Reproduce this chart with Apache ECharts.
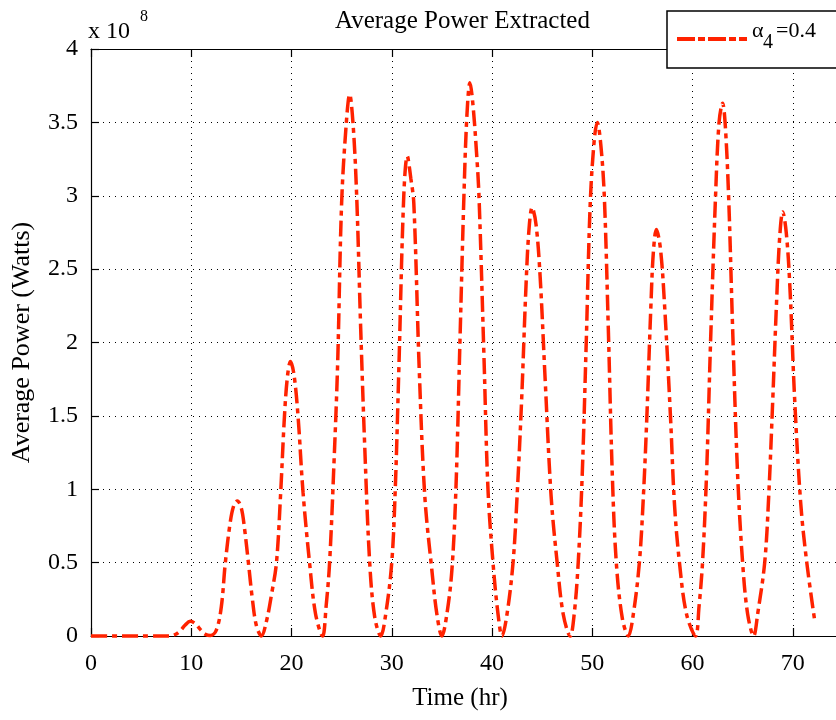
<!DOCTYPE html>
<html>
<head>
<meta charset="utf-8">
<script src="https://cdn.jsdelivr.net/npm/echarts@6/dist/echarts.min.js"></script>
<style>
html,body{margin:0;padding:0;background:#fff;}
#chart{width:836px;height:720px;}
</style>
</head>
<body>
<div id="chart"></div>
<script>
// Time (hr)
const time = [
  0, 2, 4, 6, 7.8,
  8.4, 8.9, 9.4, 9.9, 10.4, 10.9, 11.4, 11.9,
  12.5, 13.0, 13.4, 13.9, 14.25, 14.6, 15.0, 15.3, 15.7, 16.1, 16.5, 17.0,
  17.5, 18.0, 18.5, 18.9, 19.3, 19.6, 19.9, 20.25, 20.65, 21.15, 21.8, 22.4, 23.1,
  23.45, 23.8, 24.25, 24.6, 25.0, 25.45, 25.8, 26.15, 26.5, 26.9, 27.3, 27.8, 28.3, 28.9,
  29.4, 30.0, 30.35, 30.7, 31.2, 31.55, 31.9, 32.2, 32.75, 33.3, 34.0, 34.5, 35.0,
  35.5, 36.0, 36.4, 36.8, 37.2, 37.5, 37.8, 38.1, 38.45, 38.7, 39.2, 39.6, 40.1, 40.6, 41.0,
  41.5, 42.1, 42.5, 42.95, 43.4, 43.7, 44.0, 44.4, 44.8, 45.3, 45.9, 46.5, 47.1, 47.8,
  48.2, 48.6, 49.0, 49.4, 49.8, 50.2, 50.5, 50.85, 51.2, 51.6, 52.0, 52.4, 53.0, 53.6,
  54.1, 54.7, 55.1, 55.45, 55.85, 56.1, 56.4, 56.8, 57.2, 57.8, 58.2, 58.7, 59.4, 60.3,
  60.65, 61.0, 61.4, 61.8, 62.3, 62.65, 63.0, 63.25, 63.6, 64.0, 64.5, 65.0, 65.5, 66.1,
  66.5, 67.2, 67.6, 68.0, 68.4, 68.7, 69.0, 69.35, 69.7, 70.2, 70.8, 71.4, 72.2
];
// Average power (x 10^8 W)
const power = [
  0, 0, 0, 0, 0,
  0.01, 0.035, 0.075, 0.10, 0.085, 0.045, 0.012, 0.003,
  0.04, 0.2, 0.5, 0.78, 0.89, 0.92, 0.87, 0.74, 0.5, 0.25, 0.07, 0,
  0.1, 0.28, 0.5, 0.95, 1.5, 1.77, 1.87, 1.78, 1.5, 0.98, 0.5, 0.15, 0,
  0.2, 0.5, 1.2, 1.85, 2.95, 3.48, 3.69, 3.48, 3.0, 2.1, 1.3, 0.5, 0.13, 0,
  0.15, 0.5, 1.0, 1.8, 3.0, 3.27, 3.12, 2.95, 1.8, 0.95, 0.45, 0.15, 0,
  0.15, 0.45, 1.0, 2.0, 3.0, 3.55, 3.77, 3.62, 3.3, 3.0, 1.9, 1.0, 0.5, 0.15, 0,
  0.15, 0.5, 0.95, 1.6, 2.4, 2.78, 2.92, 2.8, 2.45, 1.75, 0.95, 0.5, 0.15, 0,
  0.15, 0.5, 1.1, 2.0, 2.95, 3.38, 3.5, 3.35, 3.0, 2.1, 1.1, 0.5, 0.12, 0,
  0.15, 0.5, 0.95, 1.5, 2.25, 2.62, 2.77, 2.64, 2.27, 1.5, 0.9, 0.5, 0.15, 0,
  0.2, 0.5, 1.1, 2.0, 3.0, 3.5, 3.63, 3.5, 3.0, 2.1, 1.1, 0.5, 0.15, 0,
  0.15, 0.5, 0.95, 1.6, 2.3, 2.72, 2.89, 2.75, 2.4, 1.6, 0.9, 0.5, 0.1
];
const seriesName = 'α4=0.4';
const xMin = 0, xMax = 80, xStep = 10;
const yMin = 0, yMax = 4, yStep = 0.5;

const FONT = '"Liberation Serif", "Times New Roman", serif';
const RED = '#ff2200';

const chart = echarts.init(document.getElementById('chart'), null, {renderer: 'canvas'});
const gridStyle = {color: '#000', type: [1, 5], width: 1};
chart.setOption({
  backgroundColor: '#fff',
  animation: false,
  title: {
    text: 'Average Power Extracted',
    left: 330, top: 4,
    textStyle: {fontFamily: FONT, fontSize: 25, fontWeight: 'normal', color: '#000'}
  },
  grid: {left: 91, top: 49, width: 802, height: 587, outerBoundsMode: 'none', containLabel: false},
  xAxis: [{
    type: 'value', min: xMin, max: xMax, interval: xStep, position: 'bottom',
    name: 'Time (hr)', nameLocation: 'middle', nameGap: 50,
    nameTextStyle: {fontFamily: FONT, fontSize: 25, color: '#000', padding: [0, 64, 0, 0]},
    axisLine: {show: true, onZero: false, lineStyle: {color: '#000', width: 1.2}},
    axisTick: {show: true, inside: true, length: 8, lineStyle: {color: '#000', width: 1.2}},
    axisLabel: {fontFamily: FONT, fontSize: 24, color: '#000', margin: 16},
    splitLine: {show: true, lineStyle: gridStyle}
  }, {
    type: 'value', min: xMin, max: xMax, interval: xStep, position: 'top',
    axisLine: {show: true, onZero: false, lineStyle: {color: '#000', width: 1.2}},
    axisTick: {show: true, inside: true, length: 8, lineStyle: {color: '#000', width: 1.2}},
    axisLabel: {show: false}, splitLine: {show: false}
  }],
  yAxis: [{
    type: 'value', min: yMin, max: yMax, interval: yStep, position: 'left',
    name: 'Average Power (Watts)', nameLocation: 'middle', nameGap: 56,
    nameTextStyle: {fontFamily: FONT, fontSize: 26, color: '#000'},
    axisLine: {show: true, onZero: false, lineStyle: {color: '#000', width: 1.2}},
    axisTick: {show: true, inside: true, length: 8, lineStyle: {color: '#000', width: 1.2}},
    axisLabel: {fontFamily: FONT, fontSize: 24, color: '#000', margin: 13},
    splitLine: {show: true, lineStyle: gridStyle}
  }],
  series: [{
    name: seriesName,
    type: 'line',
    data: time.map((t, i) => [t, power[i]]),
    showSymbol: false,
    smooth: 0.35,
    lineStyle: {color: RED, width: 3.5, type: [16, 5, 5, 5], cap: 'butt'},
    itemStyle: {color: RED},
    clip: false
  }],
  graphic: [
    {type: 'text', z: 100, x: 88, y: 32, style: {text: 'x 10', font: '24px ' + FONT, fill: '#000', textVerticalAlign: 'middle'}},
    {type: 'text', z: 100, x: 140, y: 17, style: {text: '8', font: '16px ' + FONT, fill: '#000', textVerticalAlign: 'middle'}},
    {type: 'rect', z: 100, shape: {x: 667, y: 11, width: 220, height: 57}, style: {fill: '#fff', stroke: '#000', lineWidth: 1.5}},
    {type: 'line', z: 101, shape: {x1: 677, y1: 39, x2: 747, y2: 39}, style: {stroke: RED, lineWidth: 4, lineDash: [18, 3, 7, 3]}},
    {type: 'text', z: 101, x: 752, y: 31, style: {text: 'α', font: '22px ' + FONT, fill: '#000', textVerticalAlign: 'middle'}},
    {type: 'text', z: 101, x: 763, y: 43, style: {text: '4', font: '20px ' + FONT, fill: '#000', textVerticalAlign: 'middle'}},
    {type: 'text', z: 101, x: 776, y: 31, style: {text: '=0.4', font: '22px ' + FONT, fill: '#000', textVerticalAlign: 'middle'}}
  ]
});
</script>
</body>
</html>
